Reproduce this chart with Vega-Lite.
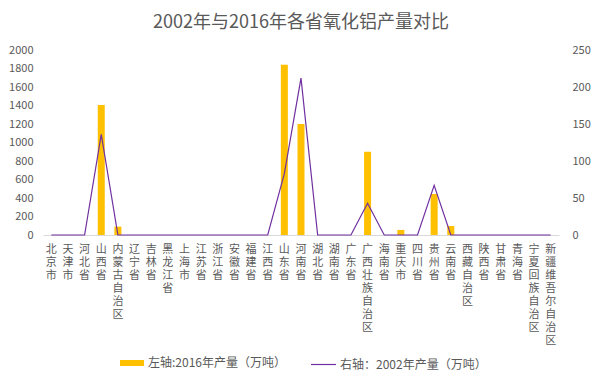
{
  "$schema": "https://vega.github.io/schema/vega-lite/v6.json",
  "autosize": {"type": "none"},
  "width": 516,
  "height": 185,
  "padding": {"left": 43, "top": 50, "right": 39, "bottom": 144},
  "background": "white",
  "title": {
    "text": "2002年与2016年各省氧化铝产量对比",
    "fontSize": 18,
    "fontWeight": "normal",
    "font": "Noto Sans CJK SC",
    "color": "#595959",
    "anchor": "middle",
    "offset": 12
  },
  "config": {
    "view": {"stroke": null},
    "font": "Noto Sans CJK SC",
    "axis": {"labelColor": "#595959", "labelFont": "Noto Sans CJK SC", "labelFontSize": 11, "grid": false, "ticks": false, "domain": false, "title": null},
    "legend": {"labelColor": "#595959", "labelFont": "Noto Sans CJK SC", "labelFontSize": 12, "title": null}
  },
  "data": {
    "values": [
      {"province": "北京市", "p2016": 0, "p2002": 0},
      {"province": "天津市", "p2016": 0, "p2002": 0},
      {"province": "河北省", "p2016": 0, "p2002": 0},
      {"province": "山西省", "p2016": 1405, "p2002": 136},
      {"province": "内蒙古自治区", "p2016": 90, "p2002": 0},
      {"province": "辽宁省", "p2016": 0, "p2002": 0},
      {"province": "吉林省", "p2016": 0, "p2002": 0},
      {"province": "黑龙江省", "p2016": 0, "p2002": 0},
      {"province": "上海市", "p2016": 0, "p2002": 0},
      {"province": "江苏省", "p2016": 0, "p2002": 0},
      {"province": "浙江省", "p2016": 0, "p2002": 0},
      {"province": "安徽省", "p2016": 0, "p2002": 0},
      {"province": "福建省", "p2016": 0, "p2002": 0},
      {"province": "江西省", "p2016": 0, "p2002": 0},
      {"province": "山东省", "p2016": 1840, "p2002": 83},
      {"province": "河南省", "p2016": 1200, "p2002": 212},
      {"province": "湖北省", "p2016": 0, "p2002": 0},
      {"province": "湖南省", "p2016": 0, "p2002": 0},
      {"province": "广东省", "p2016": 0, "p2002": 0},
      {"province": "广西壮族自治区", "p2016": 900, "p2002": 43},
      {"province": "海南省", "p2016": 0, "p2002": 0},
      {"province": "重庆市", "p2016": 55, "p2002": 0},
      {"province": "四川省", "p2016": 0, "p2002": 0},
      {"province": "贵州省", "p2016": 443, "p2002": 67},
      {"province": "云南省", "p2016": 97, "p2002": 0},
      {"province": "西藏自治区", "p2016": 0, "p2002": 0},
      {"province": "陕西省", "p2016": 0, "p2002": 0},
      {"province": "甘肃省", "p2016": 0, "p2002": 0},
      {"province": "青海省", "p2016": 0, "p2002": 0},
      {"province": "宁夏回族自治区", "p2016": 0, "p2002": 0},
      {"province": "新疆维吾尔自治区", "p2016": 0, "p2002": 0}
    ]
  },
  "encoding": {
    "x": {
      "field": "province",
      "type": "nominal",
      "sort": null,
      "scale": {"paddingInner": 0, "paddingOuter": 0},
      "axis": {
        "domain": true,
        "domainColor": "#D9D9D9",
        "labelAngle": 0,
        "labelAlign": "center",
        "labelBaseline": "top",
        "labelPadding": 8,
        "labelFontSize": 11,
        "labelLineHeight": 13,
        "labelOverlap": false,
        "labelBound": false,
        "labelExpr": "split(datum.label, '')"
      }
    }
  },
  "layer": [
    {
      "mark": {"type": "bar", "size": 7},
      "encoding": {
        "y": {
          "field": "p2016",
          "type": "quantitative",
          "scale": {"domain": [0, 2000], "nice": false},
          "axis": {"orient": "left", "format": "d", "values": [0, 200, 400, 600, 800, 1000, 1200, 1400, 1600, 1800, 2000], "labelPadding": 10}
        },
        "color": {
          "datum": "左轴:2016年产量（万吨）",
          "scale": {"range": ["#FFC000"]},
          "legend": {
            "orient": "none",
            "legendX": 77,
            "legendY": 301,
            "symbolType": "M-1,-0.25H1V0.25H-1Z",
            "symbolSize": 576,
            "symbolStrokeWidth": 0,
            "labelOffset": 4
          }
        }
      }
    },
    {
      "mark": {"type": "line", "strokeWidth": 1.2, "interpolate": "linear"},
      "encoding": {
        "y": {
          "field": "p2002",
          "type": "quantitative",
          "scale": {"domain": [0, 250], "nice": false},
          "axis": {"orient": "right", "format": "d", "values": [0, 50, 100, 150, 200, 250], "labelPadding": 13}
        },
        "stroke": {
          "datum": "右轴：2002年产量（万吨）",
          "scale": {"range": ["#7030A0"]},
          "legend": {
            "orient": "none",
            "legendX": 267,
            "legendY": 301,
            "symbolType": "stroke",
            "symbolSize": 625,
            "symbolStrokeWidth": 1.2,
            "labelOffset": 3
          }
        }
      }
    }
  ],
  "resolve": {"scale": {"y": "independent", "color": "independent", "stroke": "independent"}, "legend": {"color": "independent", "stroke": "independent"}}
}
